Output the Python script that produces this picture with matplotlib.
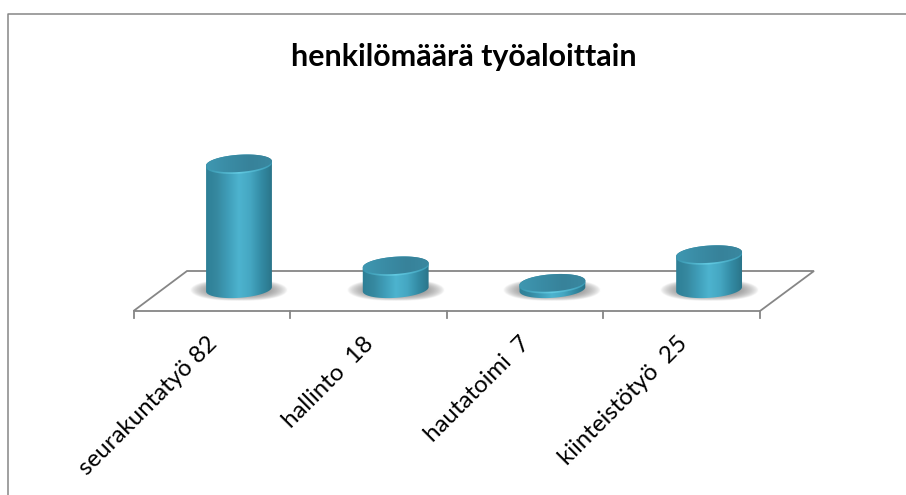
import numpy as np
import matplotlib
matplotlib.use('Agg')
import matplotlib.pyplot as plt
from matplotlib.colors import LinearSegmentedColormap
from matplotlib.patches import PathPatch, Polygon
from matplotlib.path import Path

plt.rcParams['font.family'] = ['Lato', 'DejaVu Sans']

title = 'henkilömäärä työaloittain'
labels = ['seurakuntatyö 82', 'hallinto  18', 'hautatoimi  7', 'kiinteistötyö  25']
values = [82, 18, 7, 25]

W, H = 906, 495

# pixels per category / per unit
px_x = 156.7
px_y = 1.593
x0_px = 239
y0_px = 294
base_value = 3.0

fig = plt.figure(figsize=(W / 100, H / 100), dpi=100)
ax = fig.add_axes([0, 0, 1, 1])
ax.set_xlim(-x0_px / px_x, (W - x0_px) / px_x)
ax.set_ylim((y0_px - H) / px_y, y0_px / px_y)
ax.axis('off')

line_col = '#868686'

def ell(cx, cv, rx=33, ry=8.6, tilt=-4.0):
    # tilted ellipse, sizes in pixels, result in data units
    t = np.linspace(0, 2 * np.pi, 121)
    a = np.radians(tilt)
    dx = rx * np.cos(t) * np.cos(a) - ry * np.sin(t) * np.sin(a)
    dy = rx * np.cos(t) * np.sin(a) + ry * np.sin(t) * np.cos(a)
    return cx + dx / px_x, cv - dy / px_y

# chart border, only left and top are inside the crop
ax.plot([7.5 / W, 7.5 / W, 1], [0, 1 - 14 / H, 1 - 14 / H],
        transform=ax.transAxes, color=line_col, lw=1.1, clip_on=False)

# floor
fx = lambda p: (p - x0_px) / px_x
fy = lambda p: (y0_px - p) / px_y
floor = [(133.5, 311), (187, 271), (814, 271), (760, 311)]
ax.add_patch(Polygon([(fx(a), fy(b)) for a, b in floor], closed=True, fc='white',
                     ec=line_col, lw=1.3, zorder=1))
for i in range(len(values) + 1):
    xt = fx(133.5) + i * 156.6 / px_x
    ax.plot([xt, xt], [fy(311), fy(318)], color=line_col, lw=1.3, zorder=1)

body_cmap = LinearSegmentedColormap.from_list(
    'body', ['#2d7f96', '#36889f', '#3f9db8', '#4db3cf', '#45a7c2', '#338ba4', '#2a7388'])
top_cmap = LinearSegmentedColormap.from_list('top', ['#3f98b2', '#3a8ca5', '#37829a', '#3a88a0'])
rim_cmap = LinearSegmentedColormap.from_list('rim', ['#3794ad', '#62cae2', '#3a9ab5'])

# soft shadow image
sx, sy = np.meshgrid(np.linspace(-1, 1, 140), np.linspace(-1, 1, 60))
shadow_a = np.clip(1 - (np.abs(sx) ** 2.5 + np.abs(sy) ** 2), 0, 1) ** 0.8
shadow = np.zeros(sx.shape + (4,))
shadow[..., :3] = 0.40
shadow[..., 3] = shadow_a * 0.8

grad = np.linspace(0, 1, 200).reshape(1, -1)
for i, v in enumerate(values):
    ax.imshow(shadow, extent=[i - 49 / px_x, i + 49 / px_x, fy(301), fy(279)],
              aspect='auto', zorder=2, interpolation='bilinear')

    xb, yb = ell(i, base_value)
    xt, yt = ell(i, v)
    # outline of the side: lower half of base, then upper half of top
    mask_b = yb <= base_value + (xb - i) * (np.tan(np.radians(4)) * px_x / px_y)
    mask_t = yt >= v + (xt - i) * (np.tan(np.radians(4)) * px_x / px_y)
    bx, by = xb[mask_b], yb[mask_b]
    o = np.argsort(bx)
    tx, ty = xt[mask_t], yt[mask_t]
    o2 = np.argsort(tx)[::-1]
    side = np.column_stack([np.r_[bx[o], tx[o2]], np.r_[by[o], ty[o2]]])
    clip = PathPatch(Path(np.vstack([side, side[:1]])), fc='none', ec='none', transform=ax.transData)
    ax.add_patch(clip)
    y_low, y_high = base_value - 14 / px_y, v + 14 / px_y
    im = ax.imshow(grad, extent=[i - 34 / px_x, i + 34 / px_x, y_low, y_high],
                   aspect='auto', cmap=body_cmap, zorder=3)
    im.set_clip_path(clip)

    # rim highlight just under the lid
    xr, yr = ell(i, v - 1.7 / px_y)
    rim = PathPatch(Path(np.column_stack([xr, yr])), fc='none', ec='none', transform=ax.transData)
    ax.add_patch(rim)
    im = ax.imshow(grad, extent=[i - 34 / px_x, i + 34 / px_x, y_low, y_high],
                   aspect='auto', cmap=rim_cmap, zorder=4)
    im.set_clip_path(rim)

    lid = PathPatch(Path(np.column_stack([xt, yt])), fc='none', ec='none', transform=ax.transData)
    ax.add_patch(lid)
    im = ax.imshow(grad, extent=[i - 34 / px_x, i + 34 / px_x, y_low, y_high],
                   aspect='auto', cmap=top_cmap, zorder=5)
    im.set_clip_path(lid)

    ax.text(i - 33 / px_x, fy(333), labels[i], rotation=45, rotation_mode='anchor',
            ha='right', va='top', fontsize=17.3, color='black', zorder=6)

ax.text(0.512, 1 - 57 / H, title, transform=ax.transAxes, ha='center', va='center',
        fontsize=21.9, fontweight='bold', color='black')

ax.set_xlim(-x0_px / px_x, (W - x0_px) / px_x)
ax.set_ylim((y0_px - H) / px_y, y0_px / px_y)
fig.savefig('out.png', dpi=100, facecolor='white')
